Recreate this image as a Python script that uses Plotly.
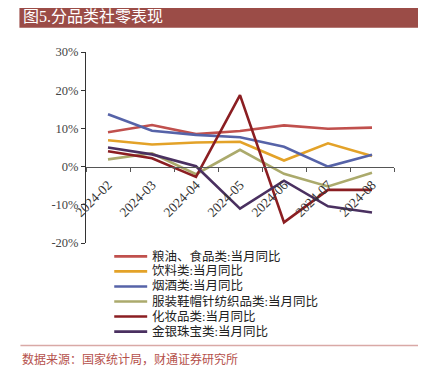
import plotly.graph_objects as go

categories = ["2024-02", "2024-03", "2024-04", "2024-05", "2024-06", "2024-07", "2024-08"]
series_names = [
    "粮油、食品类:当月同比",
    "饮料类:当月同比",
    "烟酒类:当月同比",
    "服装鞋帽针纺织品类:当月同比",
    "化妆品类:当月同比",
    "金银珠宝类:当月同比",
]
grain_food = [9.0, 10.9, 8.5, 9.3, 10.8, 9.9, 10.2]
beverage = [6.9, 5.8, 6.3, 6.5, 1.6, 6.1, 2.8]
tobacco_liquor = [13.7, 9.4, 8.3, 7.7, 5.2, 0.0, 3.1]
apparel = [1.9, 3.5, -2.0, 4.4, -1.9, -5.2, -1.6]
cosmetics = [4.0, 2.2, -2.7, 18.7, -14.6, -6.1, -6.1]
jewelry = [5.0, 3.2, 0.1, -11.0, -3.7, -10.4, -12.0]
y_ticks = [-20, -10, 0, 10, 20, 30]
y_tick_labels = ["-20%", "-10%", "0%", "10%", "20%", "30%"]

values = [grain_food, beverage, tobacco_liquor, apparel, cosmetics, jewelry]
colors = ["#C0504D", "#E3A228", "#5663A8", "#ABAA6C", "#8B1E22", "#4A3060"]

FONT = "Liberation Serif, Noto Sans CJK SC, serif"

fig = go.Figure()
for name, vals, c in zip(series_names, values, colors):
    fig.add_trace(go.Scatter(x=categories, y=vals, name=name, mode="lines",
                             line=dict(color=c, width=2.6), showlegend=False))

# page body has an 8px margin: figure starts at (8, 8) on screen
OFF = 8
SW, SH = 426, 378
W, H = SW - OFF, SH - OFF
L, R = 85.7, 394.3
T, B = 51.7, 243.3
pw, ph = R - L, B - T

def px(xp):
    return (xp - L) / pw

def py(yp):
    return (B - yp) / ph

shapes = [
    dict(type="rect", xref="paper", yref="paper",
         x0=px(19), x1=px(421.7), y0=py(27.3), y1=py(5.3),
         fillcolor="#9B4C47", line=dict(width=0), layer="below"),
    dict(type="line", xref="paper", yref="paper",
         x0=px(20), x1=px(421), y0=py(346), y1=py(346),
         line=dict(color="#D9A9A6", width=1.5)),
]
annotations = [
    dict(text="图5.分品类社零表现", xref="paper", yref="paper",
         x=px(21), y=py(16.3), xanchor="left", yanchor="middle",
         showarrow=False, font=dict(family=FONT, size=16, color="white")),
    dict(text="数据来源：国家统计局，财通证券研究所", xref="paper", yref="paper",
         x=px(20), y=py(360), xanchor="left", yanchor="middle",
         showarrow=False, font=dict(family=FONT, size=12, color="#B5514C")),
]

# legend drawn as line samples + text, one row per series
leg_top, leg_step = 256.7, 15.1
for i, (name, c) in enumerate(zip(series_names, colors)):
    yy = leg_top + i * leg_step
    shapes.append(dict(type="line", xref="paper", yref="paper",
                       x0=px(114), x1=px(147), y0=py(yy), y1=py(yy),
                       line=dict(color=c, width=2.6)))
    annotations.append(dict(text=name, xref="paper", yref="paper",
                            x=px(150), y=py(yy), xanchor="left", yanchor="middle",
                            showarrow=False,
                            font=dict(family=FONT, size=12.5, color="#222222")))

fig.update_layout(
    width=W, height=H,
    margin=dict(l=L - OFF, r=SW - R, t=T - OFF, b=SH - B, autoexpand=False),
    paper_bgcolor="white", plot_bgcolor="white",
    font=dict(family=FONT, size=12, color="#333333"),
    showlegend=False,
    xaxis=dict(type="category", anchor="free", position=py(166.7),
               showline=True, linecolor="#555555", linewidth=1,
               ticks="outside", ticklen=4, tickcolor="#555555",
               tickson="boundaries", tickangle=-45, showgrid=False,
               automargin=False, ticklabelstandoff=4,
               tickfont=dict(family=FONT, size=13.5, color="#333333"),
               range=[-0.5, 6.5]),
    yaxis=dict(range=[-20, 30], tickvals=y_ticks, ticktext=y_tick_labels,
               showline=True, linecolor="#333333", linewidth=1,
               ticks="outside", ticklen=4, tickcolor="#333333",
               showgrid=False, zeroline=False, automargin=False,
               tickfont=dict(family=FONT, size=12.5, color="#444444")),
    shapes=shapes,
    annotations=annotations,
)

fig.write_html("out.html")
